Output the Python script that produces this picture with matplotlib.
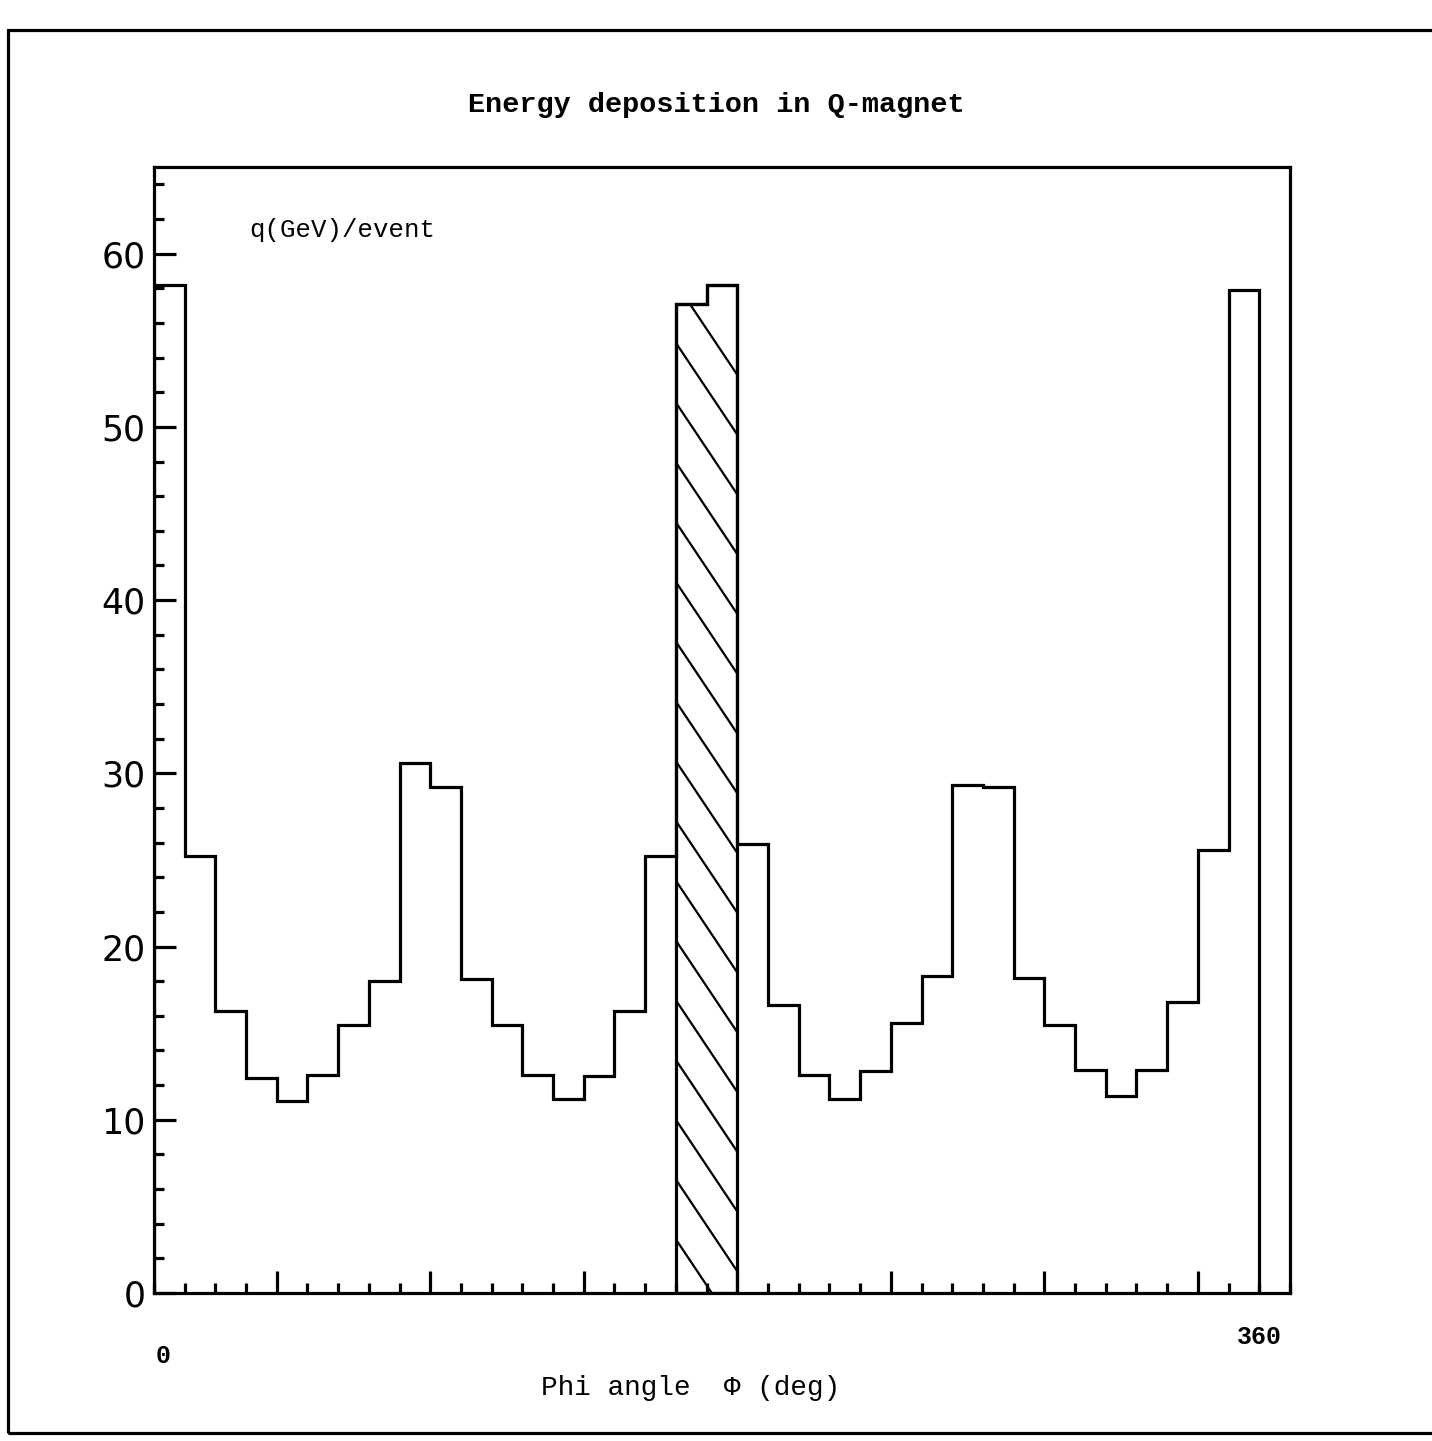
import numpy as np
import matplotlib.pyplot as plt
from matplotlib.patches import Rectangle, Polygon
from matplotlib.ticker import MultipleLocator, FixedLocator

# histogram of deposited energy per 10 deg phi bin
phi_edges = np.arange(0, 370, 10)
energy = [58.2, 25.2, 16.3, 12.4, 11.1, 12.6, 15.5, 18.0, 30.6, 29.2,
          18.1, 15.5, 12.6, 11.2, 12.5, 16.3, 25.2, 57.1, 58.2, 25.9,
          16.6, 12.6, 11.2, 12.8, 15.6, 18.3, 29.3, 29.2, 18.2, 15.5,
          12.9, 11.4, 12.9, 16.8, 25.6, 57.9]
hatched_bins = [17, 18]

y_major = [0, 10, 20, 30, 40, 50, 60]
x_major = [40, 90, 140, 190, 240, 290, 340]

title = 'Energy deposition in Q-magnet'
unit_label = 'q(GeV)/event'
x_label = 'Phi angle  \u03a6 (deg)'

mono = ['Liberation Mono', 'DejaVu Sans Mono']
lw = 2.3

fig = plt.figure(figsize=(14.32, 14.41), dpi=100)
ax = fig.add_axes([0.1075, 0.1027, 0.7933, 0.7814])

# outer frame of the page
fig.patches.append(Rectangle((8 / 1432, 1 - 1433 / 1441), 1.2, (1433 - 30) / 1441,
                             transform=fig.transFigure, fill=False,
                             edgecolor='black', linewidth=lw))

ax.stairs(energy, phi_edges, color='black', linewidth=lw, baseline=0)

# hatched bins: one outline for the group, diagonal lines clipped to it
i0, i1 = hatched_bins[0], hatched_bins[-1] + 1
hx = np.repeat(phi_edges[i0:i1 + 1], 2)
hy = np.concatenate([[0], np.repeat(energy[i0:i1], 2), [0]])
region = Polygon(np.column_stack([hx, hy]), closed=True, fill=False,
                 edgecolor='black', linewidth=lw)
ax.add_patch(region)

drop = 5.3      # y drop of one hatch line across 20 deg
spacing = 3.45
xa = phi_edges[i0]
xs = np.array([xa - 5, phi_edges[i1] + 5])
for c in np.arange(58.3, -8, -spacing):
    ys = c - (xs - xa) * drop / 20.0
    ln, = ax.plot(xs, ys, color='black', linewidth=1.6)
    ln.set_clip_path(region)

ax.set_xlim(0, 370)
ax.set_ylim(0, 65)

ax.xaxis.set_major_locator(FixedLocator(x_major))
ax.xaxis.set_minor_locator(MultipleLocator(10))
ax.yaxis.set_major_locator(FixedLocator(y_major))
ax.yaxis.set_minor_locator(MultipleLocator(2))
ax.tick_params(which='both', direction='in', top=False, right=False, width=lw)
ax.tick_params(which='major', length=16)
ax.tick_params(which='minor', length=7)
ax.tick_params(axis='x', labelbottom=False)
ax.tick_params(axis='y', labelsize=25, pad=6)
for lab in ax.get_yticklabels():
    lab.set_family('DejaVu Sans')
for s in ax.spines.values():
    s.set_linewidth(lw)

fig.text(0.5, 1 - 105 / 1441, title, ha='center', va='center',
         family=mono, fontsize=20.5, fontweight='bold')
ax.text(0.084, 0.944, unit_label, transform=ax.transAxes, ha='left', va='center',
        family=mono, fontsize=18.5)
ax.text(3, -0.056, '0', transform=ax.get_xaxis_transform(), ha='center', va='center',
        family=mono, fontsize=18, fontweight='bold')
ax.text(360, -0.039, '360', transform=ax.get_xaxis_transform(), ha='center', va='center',
        family=mono, fontsize=18, fontweight='bold')
ax.text(0.472, -0.084, x_label, transform=ax.transAxes, ha='center', va='center',
        family=mono, fontsize=20)

fig.savefig('out.png', dpi=100)
